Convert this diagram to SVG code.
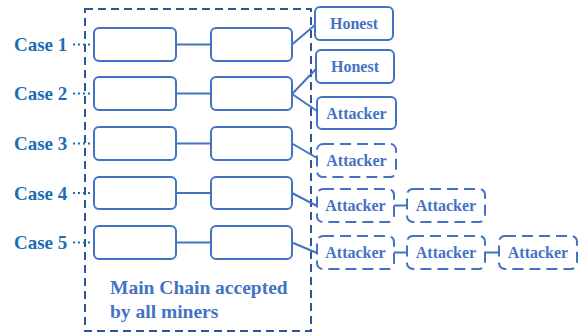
<svg xmlns="http://www.w3.org/2000/svg" width="585" height="335" viewBox="0 0 585 335">
<defs>
<style>
.blk{fill:#fff;stroke:#4472C4;stroke-width:2}
.att{fill:#fff;stroke:#4472C4;stroke-width:2;stroke-dasharray:11,6}
.ln{stroke:#4472C4;stroke-width:2;fill:none}
.dot{stroke:#1B6EB5;stroke-width:2;stroke-dasharray:2,3;fill:none}
text{font-family:"Liberation Serif","Times New Roman","DejaVu Serif",serif;font-weight:bold}
.case{font-size:19px;fill:#1B6EB5}
.lbl{font-size:16px;fill:#4472C4;text-anchor:middle}
.main{font-size:19.5px;fill:#4472C4}
</style>
</defs>
<rect x="0" y="0" width="585" height="335" fill="#fff"/>
<g id="mainchain">
<rect x="85" y="9" width="226" height="322" fill="none" stroke="#2F5597" stroke-width="2" stroke-dasharray="8,5"/>
<text class="main" x="110" y="294">Main Chain accepted</text>
<text class="main" x="110" y="318">by all miners</text>
</g>
<g id="labels">
<text class="case" x="14" y="51">Case 1</text>
<text class="case" x="14" y="100">Case 2</text>
<text class="case" x="14" y="150">Case 3</text>
<text class="case" x="14" y="199.5">Case 4</text>
<text class="case" x="14" y="249">Case 5</text>
</g>
<g id="connectors">
<path class="dot" d="M73 44.5H90M73 93.5H90M73 143.5H90M73 193H90M73 242.5H90"/>
<path class="ln" d="M176 44.5H211M176 93.5H211M176 143.5H211M176 193H211M176 242.5H211"/>
<path class="ln" d="M292 44.5L315 25M292 94L316 69M292 94L317 111M292 143.5L317 158M292 193L317 206M292 242.5L317 253"/>
<path class="ln" d="M394 205.5H407M394 252.5H407M485 252.5H499"/>
</g>
<g id="row1"><rect class="blk" x="94" y="28" width="82" height="33" rx="5"/><rect class="blk" x="211" y="28" width="81" height="33" rx="5"/></g>
<g id="row2"><rect class="blk" x="94" y="77" width="82" height="33" rx="5"/><rect class="blk" x="211" y="77" width="81" height="33" rx="5"/></g>
<g id="row3"><rect class="blk" x="94" y="127" width="82" height="33" rx="5"/><rect class="blk" x="211" y="127" width="81" height="33" rx="5"/></g>
<g id="row4"><rect class="blk" x="94" y="177" width="82" height="32" rx="5"/><rect class="blk" x="211" y="177" width="81" height="32" rx="5"/></g>
<g id="row5"><rect class="blk" x="94" y="226" width="82" height="33" rx="5"/><rect class="blk" x="211" y="226" width="81" height="33" rx="5"/></g>
<g id="honest1"><rect class="blk" x="315" y="7" width="78" height="33" rx="5"/><text class="lbl" x="354" y="29">Honest</text></g>
<g id="honest2"><rect class="blk" x="316" y="50" width="78" height="33" rx="5"/><text class="lbl" x="355" y="72">Honest</text></g>
<g id="attacker2"><rect class="blk" x="317" y="97" width="79" height="32" rx="5"/><text class="lbl" x="356.5" y="119">Attacker</text></g>
<g id="attacker3"><rect class="att" x="317" y="144" width="79" height="33" rx="6"/><text class="lbl" x="356.5" y="166">Attacker</text></g>
<g id="attacker4a"><rect class="att" x="317" y="189" width="77" height="33" rx="6"/><text class="lbl" x="355.5" y="211">Attacker</text></g>
<g id="attacker4b"><rect class="att" x="407" y="189" width="78" height="33" rx="6"/><text class="lbl" x="446" y="211">Attacker</text></g>
<g id="attacker5a"><rect class="att" x="317" y="236" width="77" height="33" rx="6"/><text class="lbl" x="355.5" y="258">Attacker</text></g>
<g id="attacker5b"><rect class="att" x="407" y="236" width="78" height="33" rx="6"/><text class="lbl" x="446" y="258">Attacker</text></g>
<g id="attacker5c"><rect class="att" x="499" y="236" width="78" height="33" rx="6"/><text class="lbl" x="538" y="258">Attacker</text></g>
</svg>
